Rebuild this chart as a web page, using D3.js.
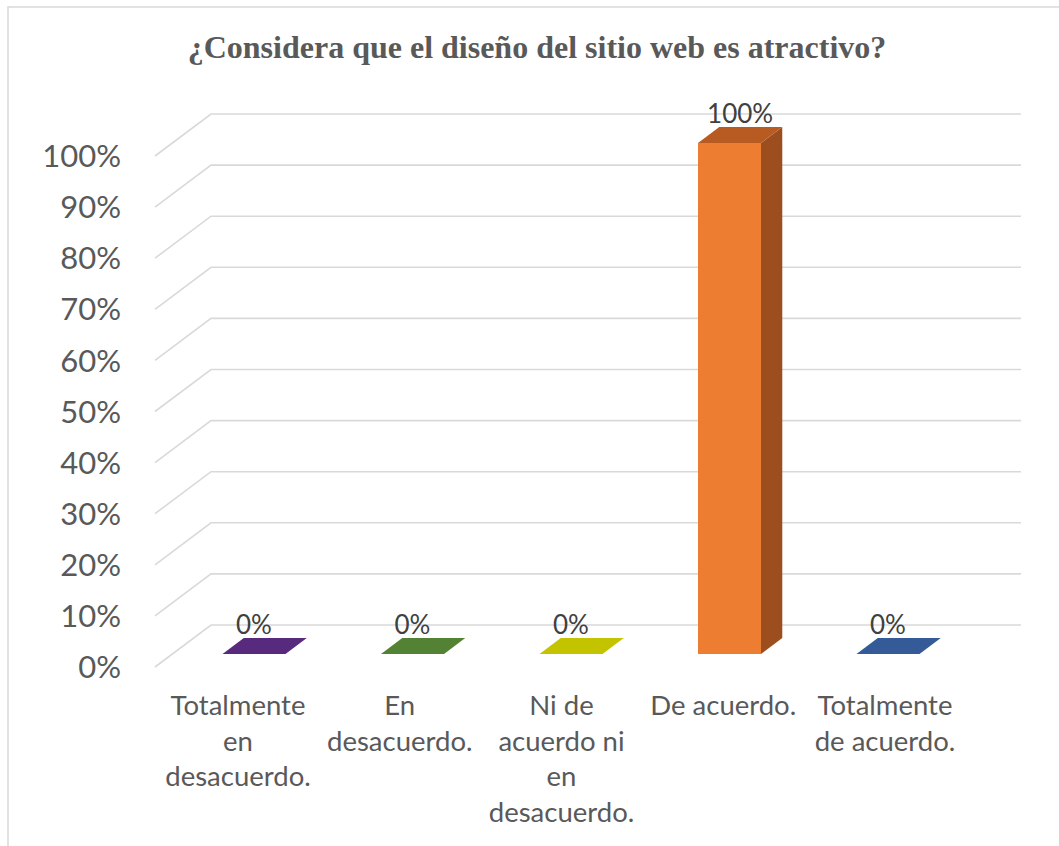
<!DOCTYPE html>
<html><head><meta charset="utf-8">
<script src="https://cdn.jsdelivr.net/npm/d3@7"></script>
<style>html,body{margin:0;padding:0;background:#fff;}svg{display:block;}</style>
</head><body>
<svg id="chart" width="1059" height="846"></svg>
<script>
const title = "¿Considera que el diseño del sitio web es atractivo?";
const categories = ["Totalmente en desacuerdo.", "En desacuerdo.", "Ni de acuerdo ni en desacuerdo.", "De acuerdo.", "Totalmente de acuerdo."];
const categoryLines = [["Totalmente","en","desacuerdo."],["En","desacuerdo."],["Ni de","acuerdo ni","en","desacuerdo."],["De acuerdo."],["Totalmente","de acuerdo."]];
const values = [0, 0, 0, 1, 0];
const yTicks = [0,0.1,0.2,0.3,0.4,0.5,0.6,0.7,0.8,0.9,1];
const colors = ["#582A7E","#548235","#C4C300","#ED7D31","#345A97"];
const sideColors = ["#3E1D59","#3B5B25","#8A8900","#9C4E1F","#243F6A"];
const topColors = ["#582A7E","#548235","#C4C300","#B85B22","#345A97"];

const svg = d3.select("#chart");
const FONT = "Lato, 'Open Sans', sans-serif";
const DX = 56, DY = -42;          // full depth offset (front plane -> back wall)
const zF = 0.31, zB = 0.69;       // bar depth extents
const y = d3.scaleLinear().domain([0,1]).range([667,156]);
const xCat = d3.scalePoint().domain(categories).range([238,885]);
const xBar = d3.scalePoint().domain(categories).range([254,888]);
const barW = 63;
const plotL = 155, plotR = 965;

// border
svg.append("rect").attr("x",8).attr("y",7).attr("width",1200).attr("height",1000)
  .attr("fill","none").attr("stroke","#d9d9d9").attr("stroke-width",1.5);

// title
svg.append("text").attr("x",537).attr("y",58).attr("text-anchor","middle")
  .attr("font-family","'Liberation Serif','Times New Roman',serif").attr("font-weight","bold")
  .attr("font-size",32).attr("fill","#595959").text(title);

// gridlines (floor-diagonal + back wall)
svg.append("g").selectAll("path").data(yTicks).join("path")
  .attr("d", t => `M${plotL},${y(t)} L${plotL+DX},${y(t)+DY} L${plotR+DX},${y(t)+DY}`)
  .attr("fill","none").attr("stroke","#d9d9d9").attr("stroke-width",1.6);

// y tick labels
svg.append("g").selectAll("text").data(yTicks).join("text")
  .attr("x",121).attr("y",t=>y(t)).attr("dy","0.36em").attr("text-anchor","end")
  .attr("font-family",FONT).attr("font-size",31).attr("fill","#595959")
  .text(d3.format(".0%"));

// bars
const dxb = (zB-zF)*DX, dyb = (zB-zF)*DY;
const bars = svg.append("g").selectAll("g").data(categories).join("g");
bars.each(function(c,i){
  const g = d3.select(this);
  const v = values[i];
  const x0 = xBar(c) - barW/2, x1 = x0 + barW;
  const yb = y(0) + zF*DY, yt = y(v) + zF*DY;
  if (v > 0) {
    g.append("path").attr("d",`M${x0},${yb} L${x1},${yb} L${x1},${yt} L${x0},${yt} Z`).attr("fill",colors[i]);
    g.append("path").attr("d",`M${x1},${yb} L${x1+dxb},${yb+dyb} L${x1+dxb},${yt+dyb} L${x1},${yt} Z`).attr("fill",sideColors[i]);
  }
  g.append("path").attr("d",`M${x0},${yt} L${x1},${yt} L${x1+dxb},${yt+dyb} L${x0+dxb},${yt+dyb} Z`)
    .attr("fill", v>0 ? topColors[i] : colors[i]);
  // data label
  g.append("text").attr("x", xBar(c) + (v>0 ? dxb/2 : 0)).attr("y", y(v) + zB*DY - 4)
    .attr("text-anchor","middle").attr("font-family",FONT).attr("font-size",26)
    .attr("fill","#404040").text(d3.format(".0%")(v));
});

// category labels
const cl = svg.append("g").selectAll("text").data(categories).join("text")
  .attr("text-anchor","middle").attr("font-family",FONT).attr("font-size",27.5).attr("fill","#595959");
cl.each(function(c,i){
  d3.select(this).selectAll("tspan").data(categoryLines[i]).join("tspan")
    .attr("x", xCat(c)).attr("y",(d,j)=>715 + j*35.7).text(d=>d);
});
</script>
</body></html>
